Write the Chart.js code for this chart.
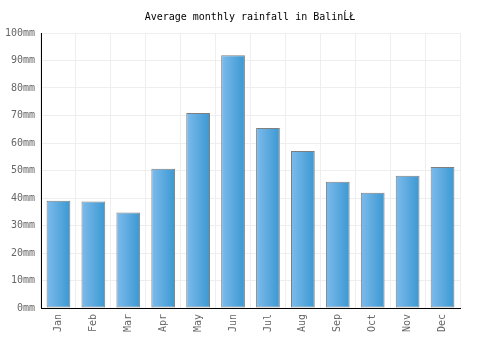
<!DOCTYPE html>
<html>
<head>
<meta charset="utf-8">
<script src="https://cdn.jsdelivr.net/npm/chart.js@4/dist/chart.umd.min.js"></script>
<style>
  html, body { margin: 0; padding: 0; background: #fff; }
  #wrap { position: relative; width: 500px; height: 350px; }
</style>
</head>
<body>
<div id="wrap"><canvas id="RainChart"></canvas></div>
<script>
const months = ["Jan", "Feb", "Mar", "Apr", "May", "Jun", "Jul", "Aug", "Sep", "Oct", "Nov", "Dec"];
const rainfall = [39, 38.7, 34.7, 50.6, 70.9, 91.9, 65.5, 57.1, 45.9, 41.9, 48.1, 51.3];
const yTicks = [0, 10, 20, 30, 40, 50, 60, 70, 80, 90, 100];

const FONT = "'DejaVu Sans Mono', monospace";
const BAR_PCT = 0.68;

// horizontal gradient per bar, built from the x scale
const barFill = (context) => {
  const chart = context.chart;
  const xs = chart.scales.x;
  if (!xs || context.dataIndex === undefined) return "#5aa9e0";
  const cx = xs.getPixelForValue(context.dataIndex);
  const w = (xs.width / months.length) * BAR_PCT;
  if (!isFinite(cx) || !isFinite(w) || w <= 0) return "#5aa9e0";
  const g = chart.ctx.createLinearGradient(cx - w / 2, 0, cx + w / 2, 0);
  g.addColorStop(0, "#7ebbec");
  g.addColorStop(1, "#3a98d2");
  return g;
};

const ctx = document.getElementById("RainChart");

new Chart(ctx, {
  type: "bar",
  data: {
    labels: months,
    datasets: [
      {
        label: "Rainfall",
        data: rainfall,
        backgroundColor: barFill,
        borderColor: "#7f7f7f",
        borderWidth: 1,
        borderSkipped: false,
        barPercentage: BAR_PCT,
        categoryPercentage: 1,
      },
    ],
  },
  options: {
    responsive: true,
    maintainAspectRatio: false,
    animation: false,
    layout: {
      padding: 0,
    },
    plugins: {
      legend: { display: false },
      tooltip: { enabled: false },
      title: {
        display: true,
        text: "Average monthly rainfall in BalinĹŁ",
        color: "#000",
        font: { family: FONT, size: 10, weight: "normal" },
        padding: { top: 11, bottom: 10 },
      },
    },
    scales: {
      y: {
        min: 0,
        max: 100,
        afterBuildTicks: (axis) => {
          axis.ticks = yTicks.map((v) => ({ value: v }));
        },
        afterFit: (axis) => {
          axis.width = 41;
        },
        border: { display: true, color: "#000", width: 1 },
        grid: { color: "#eeeeee", drawTicks: false },
        ticks: {
          padding: 6,
          color: "#666",
          font: { family: FONT, size: 10 },
          callback: (v) => v + "mm",
        },
      },
      // empty right-hand axis, only keeps the 40px gap on the right
      yRight: {
        position: "right",
        min: 0,
        max: 100,
        afterFit: (axis) => {
          axis.width = 40;
        },
        border: { display: false },
        grid: { display: false },
        ticks: { display: false },
      },
      x: {
        offset: true,
        afterFit: (axis) => {
          axis.height = 42;
        },
        border: { display: true, color: "#000", width: 1 },
        grid: { color: "#eeeeee", offset: true, drawTicks: false },
        ticks: {
          padding: 6,
          color: "#666",
          maxRotation: 90,
          minRotation: 90,
          font: { family: FONT, size: 10 },
        },
      },
    },
  },
});
</script>
</body>
</html>
